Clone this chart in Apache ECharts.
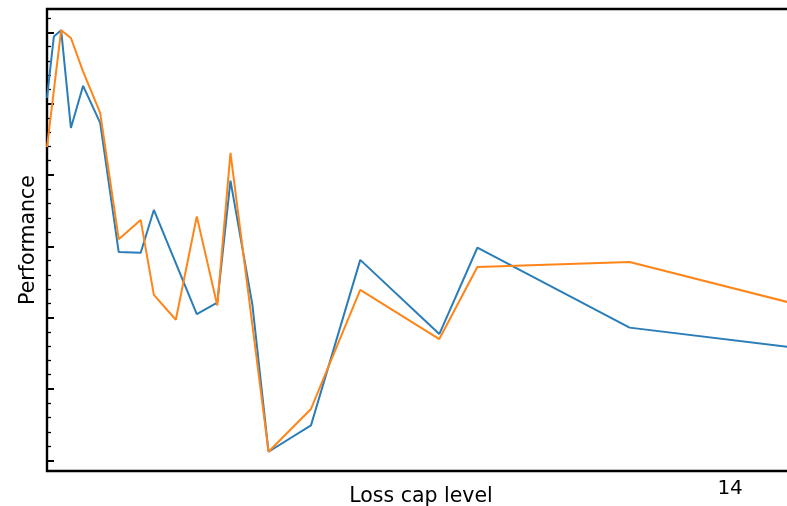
<!DOCTYPE html>
<html>
<head>
<meta charset="utf-8">
<title>Performance vs loss cap level</title>
<script src="https://cdn.jsdelivr.net/npm/echarts@6/dist/echarts.min.js"></script>
<style>
  html, body { margin: 0; padding: 0; background: #fff; }
  #chart { width: 787px; height: 506px; }
</style>
</head>
<body>
<div id="chart"></div>
<script>
// Loss cap levels shared by both runs
const capLevels = [0, 0.14, 0.29, 0.49, 0.74, 1.09, 1.47, 1.92, 2.19, 2.64, 3.07,
                   3.49, 3.76, 4.21, 4.54, 5.41, 6.42, 8.04, 8.82, 11.94, 15.17];

// Performance per cap level (null where the run has no reading)
const runA = [5.08, 5.94, 6.03, 4.66, 5.25, 4.73, 2.92, 2.91, 3.51, null, 2.05,
              2.21, 3.92, 2.18, 0.12, 0.49, 2.81, 1.77, 2.98, 1.86, 1.59];
const runB = [4.39, null, 6.03, 5.92, 5.45, 4.87, 3.10, 3.37, 2.32, 1.97, 3.42,
              2.17, 4.31, null, 0.12, 0.72, 2.39, 1.70, 2.71, 2.78, 2.22];

// Axis ticks
const yMajorTicks = [0, 1, 2, 3, 4, 5, 6];
const yMinorTicks = [0.2, 0.4, 0.6, 0.8, 1.2, 1.4, 1.6, 1.8, 2.2, 2.4, 2.6, 2.8,
                     3.2, 3.4, 3.6, 3.8, 4.2, 4.4, 4.6, 4.8, 5.2, 5.4, 5.6, 5.8, 6.2];
const xTickLabels = [14];

function pairs(values) {
  const out = [];
  capLevels.forEach((x, i) => {
    if (values[i] !== null) out.push([x, values[i]]);
  });
  return out;
}

const FONT = 'DejaVu Sans';
const Y_MIN = -0.15, Y_MAX = 6.327;

const chart = echarts.init(document.getElementById('chart'), null, { renderer: 'canvas' });
chart.setOption({
  animation: false,
  backgroundColor: '#ffffff',
  grid: {
    left: 47, top: 9, width: 748, height: 462,
    show: true, borderColor: '#000', borderWidth: 2.4,
    backgroundColor: 'transparent',
    outerBoundsMode: 'none'
  },
  xAxis: {
    type: 'value', min: 0, max: 15.33,
    name: 'Loss cap level', nameLocation: 'middle', nameGap: 15,
    nameMoveOverlap: false,
    nameTextStyle: { fontFamily: FONT, fontSize: 20.5, color: '#000' },
    axisLine: { show: false },
    axisTick: { show: false },
    splitLine: { show: false },
    axisLabel: { customValues: xTickLabels, margin: 8, fontFamily: FONT, fontSize: 20, color: '#000' }
  },
  yAxis: [
    {
      type: 'value', min: Y_MIN, max: Y_MAX, position: 'left',
      name: 'Performance', nameLocation: 'middle', nameGap: 8, nameRotate: 90,
      nameTextStyle: { fontFamily: FONT, fontSize: 20.5, color: '#000' },
      axisLine: { show: false },
      axisLabel: { show: false },
      splitLine: { show: false },
      axisTick: { show: true, inside: true, length: 7, customValues: yMajorTicks,
                  lineStyle: { color: '#000', width: 2 } }
    },
    {
      type: 'value', min: Y_MIN, max: Y_MAX, position: 'left',
      axisLine: { show: false },
      axisLabel: { show: false },
      splitLine: { show: false },
      axisTick: { show: true, inside: true, length: 4, customValues: yMinorTicks,
                  lineStyle: { color: '#000', width: 1.3 } }
    }
  ],
  series: [
    {
      name: 'run A', type: 'line', data: pairs(runA),
      showSymbol: false, symbol: 'none',
      lineStyle: { color: '#2a7db8', width: 2 },
      itemStyle: { color: '#2a7db8' }
    },
    {
      name: 'run B', type: 'line', data: pairs(runB),
      showSymbol: false, symbol: 'none',
      lineStyle: { color: '#ff8519', width: 2 },
      itemStyle: { color: '#ff8519' }
    }
  ]
});
</script>
</body>
</html>
